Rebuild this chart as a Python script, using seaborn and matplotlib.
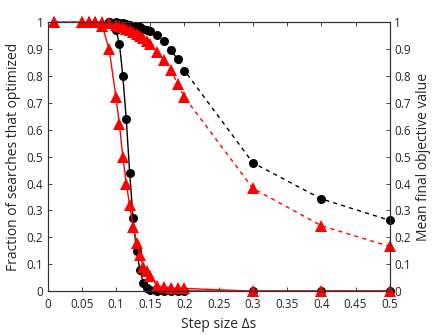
import numpy as np
import pandas as pd
import seaborn as sns
import matplotlib.pyplot as plt

# step sizes for the red series
step_red = [0.01, 0.05, 0.06, 0.07, 0.08, 0.09, 0.1, 0.105, 0.11, 0.115, 0.12, 0.125,
            0.13, 0.135, 0.14, 0.145, 0.15, 0.16, 0.17, 0.18, 0.19, 0.2, 0.3, 0.4, 0.5]
# step sizes for the black series (left part hidden under the red triangles)
step_black = [0.09, 0.1, 0.105, 0.11, 0.115, 0.12, 0.125,
              0.13, 0.135, 0.14, 0.145, 0.15, 0.16, 0.17, 0.18, 0.19, 0.2, 0.3, 0.4, 0.5]

# fraction of searches that optimized (left axis, solid)
frac_black = [1, 0.97, 0.92, 0.80, 0.64, 0.44, 0.27,
              0.15, 0.08, 0.03, 0.012, 0.005, 0.002, 0, 0, 0, 0, 0, 0, 0]
frac_red = [1, 1, 1, 1, 0.985, 0.9, 0.72, 0.62, 0.5, 0.4, 0.32, 0.24,
            0.18, 0.135, 0.09, 0.075, 0.055, 0.02, 0.015, 0.012, 0.01, 0.01, 0, 0, 0]

# mean final objective value (right axis, dashed)
obj_black = [1, 1, 0.998, 0.996, 0.993, 0.99, 0.987,
             0.984, 0.98, 0.976, 0.972, 0.967, 0.953, 0.928, 0.897, 0.862, 0.82, 0.477, 0.343, 0.263]
obj_red = [1, 1, 1, 1, 1, 0.995, 0.99, 0.985, 0.98, 0.975, 0.97, 0.965,
           0.955, 0.95, 0.94, 0.93, 0.92, 0.89, 0.858, 0.822, 0.771, 0.721, 0.382, 0.243, 0.166]

black = pd.DataFrame({"step": step_black, "frac": frac_black, "obj": obj_black})
red = pd.DataFrame({"step": step_red, "frac": frac_red, "obj": obj_red})

sns.set_style("ticks")
plt.rcParams['font.family'] = ['Open Sans', 'DejaVu Sans']
plt.rcParams['xtick.direction'] = 'in'
plt.rcParams['ytick.direction'] = 'in'

fig = plt.figure(figsize=(4.36, 3.35), dpi=100)
ax = fig.add_axes([0.109, 0.131, 0.785, 0.803])

kw = dict(linewidth=1, markeredgewidth=0, clip_on=False)
sns.lineplot(data=black, x="step", y="frac", ax=ax, color="black", marker="o", markersize=6.5, **kw)
sns.lineplot(data=red, x="step", y="frac", ax=ax, color="red", marker="^", markersize=8, **kw)

ax2 = ax.twinx()
sns.lineplot(data=black, x="step", y="obj", ax=ax2, color="black", marker="o", markersize=6.5,
             linestyle=(0, (3, 3)), **kw)
sns.lineplot(data=red, x="step", y="obj", ax=ax2, color="red", marker="^", markersize=8,
             linestyle=(0, (3, 3)), **kw)

for a in (ax, ax2):
    a.set_xlim(0, 0.5)
    a.set_ylim(0, 1)
    a.set_yticks(np.arange(0, 1.01, 0.1))
    a.set_yticklabels(["0"] + ["%.1f" % v for v in np.arange(0.1, 0.95, 0.1)] + ["1"], fontsize=8.5)
    a.tick_params(length=3, width=0.6, pad=3)
    for s in a.spines.values():
        s.set_linewidth(0.8)
        s.set_color("#333333")

ax.set_xticks(np.arange(0, 0.501, 0.05))
ax.set_xticklabels(["0", "0.05", "0.1", "0.15", "0.2", "0.25", "0.3", "0.35", "0.4", "0.45", "0.5"], fontsize=8.5)
ax.tick_params(axis="x", top=True, pad=5)
ax.set_xlabel("Step size \u0394s", fontsize=10)
ax.set_ylabel("Fraction of searches that optimized", fontsize=10, labelpad=4)
ax2.set_ylabel("Mean final objective value", fontsize=10, labelpad=4)

fig.savefig("out.png", dpi=100)
